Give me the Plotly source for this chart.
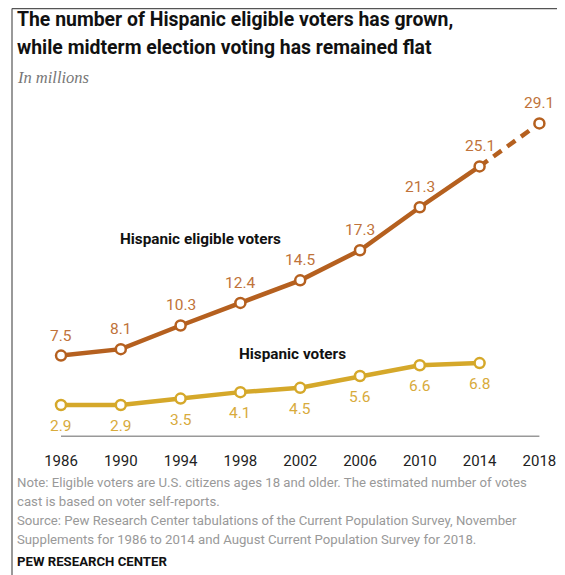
import plotly.graph_objects as go

years = [1986, 1990, 1994, 1998, 2002, 2006, 2010, 2014, 2018]
eligible = [7.5, 8.1, 10.3, 12.4, 14.5, 17.3, 21.3, 25.1, 29.1]
voter_years = [1986, 1990, 1994, 1998, 2002, 2006, 2010, 2014]
voters = [2.9, 2.9, 3.5, 4.1, 4.5, 5.6, 6.6, 6.8]
tick_labels = [str(y) for y in years]

BROWN = "#b5601f"
BROWN_TXT = "#c0733a"
GOLD = "#d5a82a"
GOLD_TXT = "#d8ab3c"
FONT = "Roboto"

# page offset of the figure inside the browser (body margin)
OFF = 8
W, H = 565 - OFF, 575 - OFF
L, R, T, B = 23, 6, 92, 135
pw, ph = W - L - R, H - T - B


def px(xs, ys):
    """screen pixel -> paper coords"""
    fx, fy = xs - OFF, ys - OFF
    return (fx - L) / pw, (H - B - fy) / ph


fig = go.Figure()

fig.add_trace(go.Scatter(
    x=years[:-1], y=eligible[:-1], mode="lines",
    line=dict(color=BROWN, width=4.5), hoverinfo="skip", showlegend=False))
fig.add_trace(go.Scatter(
    x=years[-2:], y=eligible[-2:], mode="lines",
    line=dict(color=BROWN, width=4.5, dash="10px,7px"), hoverinfo="skip", showlegend=False))
fig.add_trace(go.Scatter(
    x=years, y=eligible, mode="markers",
    marker=dict(size=10, color="white", line=dict(color=BROWN, width=2.5)),
    showlegend=False, cliponaxis=False))

fig.add_trace(go.Scatter(
    x=voter_years, y=voters, mode="lines+markers",
    line=dict(color=GOLD, width=4.5),
    marker=dict(size=10, color="white", line=dict(color=GOLD, width=2.5)),
    showlegend=False, cliponaxis=False))

annotations = []
for x, v in zip(years, eligible):
    annotations.append(dict(x=x, y=v, xref="x", yref="y", text=f"{v:.1f}",
                            showarrow=False, yshift=20,
                            font=dict(family=FONT, size=15.5, color=BROWN_TXT)))
for x, v in zip(voter_years, voters):
    annotations.append(dict(x=x, y=v, xref="x", yref="y", text=f"{v:.1f}",
                            showarrow=False, yshift=-21,
                            font=dict(family=FONT, size=15.5, color=GOLD_TXT)))

# series labels (screen centre positions)
for xs, ys, t in [(200, 239, "<b>Hispanic eligible voters</b>"), (292, 354, "<b>Hispanic voters</b>")]:
    ax, ay = px(xs, ys)
    annotations.append(dict(x=ax, y=ay, xref="paper", yref="paper", text=t, showarrow=False,
                            xanchor="center", yanchor="middle",
                            font=dict(family=FONT, size=15.3, color="#111")))

texts = [
    (15, 20, "<b>The number of Hispanic eligible voters has grown,</b>", 19.4, "#111", FONT),
    (15, 47, "<b>while midterm election voting has remained flat</b>", 19.4, "#111", FONT),
    (15, 77, "<i>In millions</i>", 16.5, "#777", "Liberation Serif"),
    (15, 482, "Note: Eligible voters are U.S. citizens ages 18 and older. The estimated number of votes", 13.2, "#999", FONT),
    (15, 501, "cast is based on voter self-reports.", 13.2, "#999", FONT),
    (15, 520, "Source: Pew Research Center tabulations of the Current Population Survey, November", 13.2, "#999", FONT),
    (15, 539, "Supplements for 1986 to 2014 and August Current Population Survey for 2018.", 13.2, "#999", FONT),
    (15, 561, "<b>PEW RESEARCH CENTER</b>", 13.2, "#111", FONT),
]
for xs, ys, t, s, c, f in texts:
    ax, ay = px(xs, ys)
    annotations.append(dict(x=ax, y=ay, xref="paper", yref="paper", text=t, showarrow=False,
                            xanchor="left", yanchor="middle", align="left",
                            font=dict(family=f, size=s, color=c)))

bx, _ = px(12, 0)
shapes = [
    dict(type="line", xref="x", yref="y", x0=years[0], x1=years[-1], y0=0, y1=0,
         line=dict(color="#999", width=1.5)),
    dict(type="line", xref="paper", yref="paper", x0=bx, x1=bx,
         y0=(H - B - 0.5) / ph, y1=-B / ph, line=dict(color="#555", width=1.2)),
    dict(type="line", xref="paper", yref="paper", x0=bx, x1=(W - L) / pw,
         y0=(H - B - 0.6) / ph, y1=(H - B - 0.6) / ph, line=dict(color="#555", width=1.2)),
]

# data scale: 1986 at screen x 61, 14.95 px/year; y=0 at screen y 436.2, 10.75 px/unit
x_1986 = 61 - OFF
y_zero = 436.2 - OFF
x0 = 1986 - (x_1986 - L) / 14.95
x1 = 1986 + (W - R - x_1986) / 14.95
y0 = -(H - B - y_zero) / 10.75
y1 = (y_zero - T) / 10.75

fig.update_layout(
    width=W, height=H,
    margin=dict(l=L, r=R, t=T, b=B, pad=0),
    paper_bgcolor="white", plot_bgcolor="white",
    xaxis=dict(range=[x0, x1], tickvals=years, ticktext=tick_labels, showgrid=False,
               zeroline=False, showline=False, ticks="outside", ticklen=7,
               tickcolor="rgba(0,0,0,0)", tickfont=dict(family=FONT, size=15, color="#222")),
    yaxis=dict(range=[y0, y1], showgrid=False, zeroline=False, showline=False,
               showticklabels=False, ticks=""),
    annotations=annotations, shapes=shapes,
    showlegend=False,
)

fig.write_html("out.html")
